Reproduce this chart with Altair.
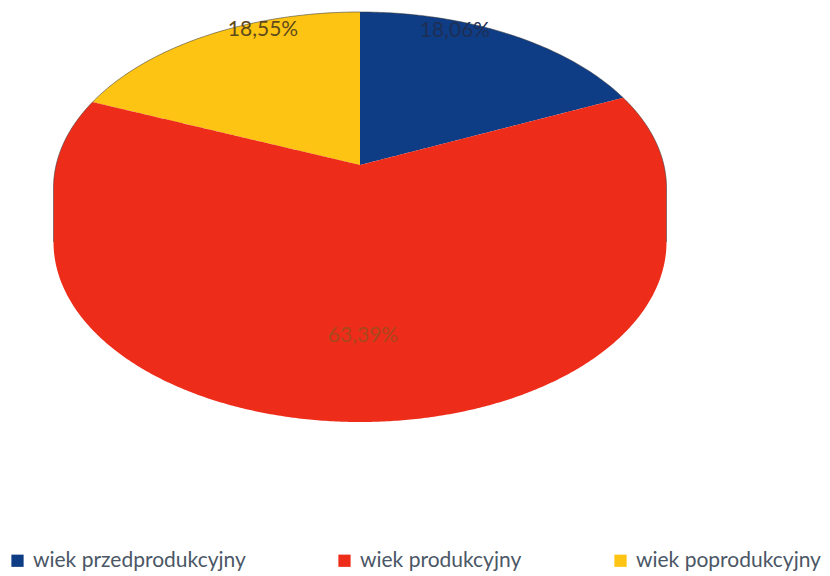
import numpy as np
import pandas as pd
import altair as alt

categories = ["wiek przedprodukcyjny", "wiek produkcyjny", "wiek poprodukcyjny"]
shares = [18.06, 63.39, 18.55]
labels = ["18,06%", "63,39%", "18,55%"]
colors = ["#0e3c85", "#ee2c1a", "#fdc413"]
label_colors = ["#1e2f55", "#a8481c", "#5f4a1e"]

# Pie geometry as seen in the picture (page pixels)
CX, RX = 360.0, 306.5
APEX_Y = 165.0
TOP_CY, TOP_RY = 188.0, 176.0
BOT_CY, BOT_RY = 242.0, 180.0
FORESHORTEN = 0.91  # perspective squeeze of the slice angles
LABEL_X = [455, 363, 263]
LABEL_Y = [31, 336, 30]


def top_y(x):
    return TOP_CY - TOP_RY * np.sqrt(np.clip(1 - ((x - CX) / RX) ** 2, 0, 1))


def bottom_y(x):
    return BOT_CY + BOT_RY * np.sqrt(np.clip(1 - ((x - CX) / RX) ** 2, 0, 1))


right_t = np.radians(shares[0] * 3.6 * FORESHORTEN)
left_t = np.radians(shares[2] * 3.6 * FORESHORTEN)
x_right = CX + RX * np.sin(right_t)
x_left = CX - RX * np.sin(left_t)
y_right, y_left = top_y(x_right), top_y(x_left)

rows = []
# blue slice: ellipse above, spoke below
for x in np.linspace(CX, x_right, 80):
    f = (x - CX) / (x_right - CX)
    rows.append((categories[0], x, top_y(x), APEX_Y + f * (y_right - APEX_Y)))
# yellow slice
for x in np.linspace(x_left, CX, 80):
    f = (CX - x) / (CX - x_left)
    rows.append((categories[2], x, top_y(x), APEX_Y + f * (y_left - APEX_Y)))
# red slice, including the side wall
t_values = np.radians(np.linspace(-90, 90, 361))
xs = np.unique(np.concatenate([CX + RX * np.sin(t_values), [x_left, x_right, CX]]))
for x in xs:
    if x <= x_left or x >= x_right:
        up = top_y(x)
    elif x <= CX:
        up = APEX_Y + (CX - x) / (CX - x_left) * (y_left - APEX_Y)
    else:
        up = APEX_Y + (x - CX) / (x_right - CX) * (y_right - APEX_Y)
    rows.append((categories[1], x, up, bottom_y(x)))
slices = pd.DataFrame(rows, columns=["kategoria", "x", "y", "y2"])

edge_t = np.radians(np.linspace(-90, 90, 241))
edge = pd.DataFrame({"x": CX + RX * np.sin(edge_t), "y": TOP_CY - TOP_RY * np.cos(edge_t)})
edge = pd.concat([
    pd.DataFrame({"x": [CX - RX], "y": [BOT_CY]}),
    edge,
    pd.DataFrame({"x": [CX + RX], "y": [BOT_CY]}),
], ignore_index=True)
edge["o"] = range(len(edge))

text_df = pd.DataFrame({"x": LABEL_X, "y": LABEL_Y, "t": labels, "c": label_colors})

x_scale = alt.Scale(domain=[8, 822], range=[0, 814], nice=False, zero=False)
y_scale = alt.Scale(domain=[8, 574], range=[0, 566], nice=False, zero=False)
x_enc = alt.X("x:Q", scale=x_scale, axis=None)
y_enc = alt.Y("y:Q", scale=y_scale, axis=None, stack=False)

pie = alt.Chart(slices).mark_area(interpolate="linear", orient="vertical").encode(
    x=x_enc,
    y=y_enc,
    y2="y2:Q",
    color=alt.Color(
        "kategoria:N",
        scale=alt.Scale(domain=categories, range=colors),
        sort=categories,
        legend=alt.Legend(
            title=None,
            orient="none",
            legendX=-1,
            legendY=542,
            direction="horizontal",
            columns=3,
            columnPadding=88,
            symbolType="square",
            symbolSize=150,
            symbolStrokeWidth=0,
            labelFont="Lato",
            labelFontSize=21,
            labelColor="#4b5766",
            labelOffset=5,
            labelLimit=300,
        ),
    ),
)

outline = alt.Chart(edge).mark_line(color="#3a3a3a", strokeWidth=1, opacity=0.55).encode(
    x=x_enc, y=y_enc, order="o:Q"
)

texts = alt.Chart(text_df).mark_text(
    font="Lato", fontSize=21, align="center", baseline="middle"
).encode(
    x=x_enc, y=y_enc, text="t:N", color=alt.Color("c:N", scale=None)
)

chart = (
    alt.layer(pie, outline, texts)
    .properties(width=814, height=566, padding=0, autosize=alt.AutoSizeParams(type="none"))
    .configure_view(stroke=None)
)

chart.save("out.html", embed_options={"renderer": "svg", "actions": False})
